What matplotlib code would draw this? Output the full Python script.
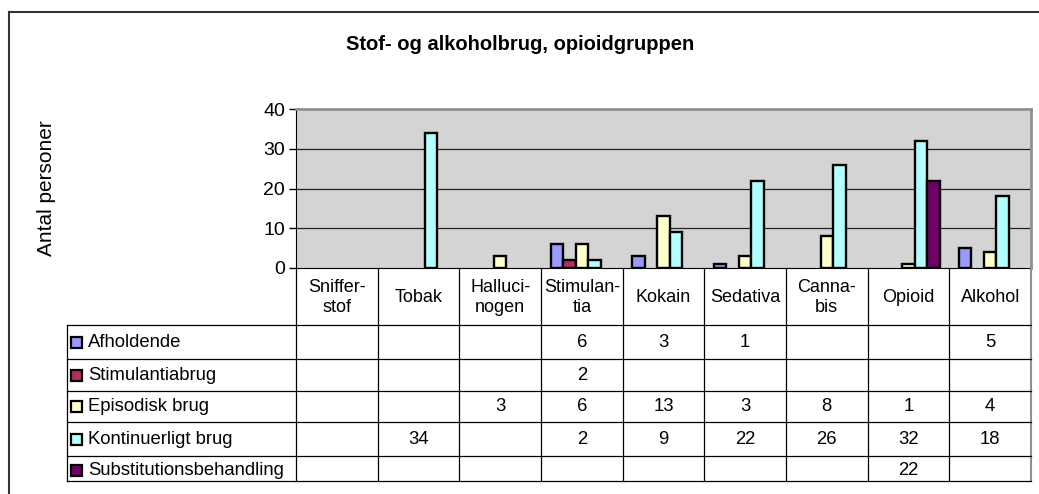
import numpy as np
import matplotlib
matplotlib.use("Agg")
import matplotlib.pyplot as plt
from matplotlib.patches import Rectangle

plt.rcParams['font.family'] = ['Liberation Sans', 'DejaVu Sans']

# --- data ---
kategorier = ['Sniffer-\nstof', 'Tobak', 'Halluci-\nnogen', 'Stimulan-\ntia', 'Kokain',
              'Sedativa', 'Canna-\nbis', 'Opioid', 'Alkohol']
serier = ['Afholdende', 'Stimulantiabrug', 'Episodisk brug', 'Kontinuerligt brug',
          'Substitutionsbehandling']
nan = np.nan
afholdende = [nan, nan, nan, 6, 3, 1, nan, nan, 5]
stimulantiabrug = [nan, nan, nan, 2, nan, nan, nan, nan, nan]
episodisk = [nan, nan, 3, 6, 13, 3, 8, 1, 4]
kontinuerligt = [nan, 34, nan, 2, 9, 22, 26, 32, 18]
substitution = [nan, nan, nan, nan, nan, nan, nan, 22, nan]
y_ticks = [0, 10, 20, 30, 40]

vaerdier = [afholdende, stimulantiabrug, episodisk, kontinuerligt, substitution]
farver = ['#9999ff', '#b03060', '#ffffcc', '#b3ffff', '#6e0066']

W, H = 1039, 494
fig = plt.figure(figsize=(W / 100, H / 100), dpi=100)

# pixel positions of plot area and table
px_l, px_r, px_t, px_b = 296, 1031, 109, 268
tab_l, tab_bot = 67, 481
row_y = [325, 359, 391, 422, 456, 481]

def fx(x):
    return x / W

def fy(y):
    return 1 - y / H

ax = fig.add_axes([fx(px_l), fy(px_b), fx(px_r - px_l), (px_b - px_t) / H])
ax.set_facecolor('#d4d4d4')
n = len(kategorier)
x = np.arange(n)
bw = 0.153
for i, (vals, c) in enumerate(zip(vaerdier, farver)):
    ax.bar(x + (i - 2) * bw, vals, width=bw, color=c, edgecolor='black',
           linewidth=1.7, zorder=3)
ax.set_xlim(-0.5, n - 0.5)
ax.set_ylim(0, 40)
ax.set_yticks(y_ticks)
ax.tick_params(axis='y', labelsize=14, length=5, width=1, direction='out', pad=3)
ax.set_xticks([])
for yv in y_ticks[1:-1]:
    ax.axhline(yv, color='#222222', lw=0.9, zorder=1)
ax.spines['left'].set_color('black')
ax.spines['bottom'].set_color('black')
ax.spines['top'].set_color('#909090')
ax.spines['right'].set_color('#909090')
ax.spines['top'].set_linewidth(2)
ax.spines['right'].set_linewidth(2)

# overlay axes in pixel coordinates for table, frame and texts
ov = fig.add_axes([0, 0, 1, 1])
ov.set_xlim(0, W)
ov.set_ylim(H, 0)
ov.axis('off')
ov.patch.set_alpha(0)

# outer chart frame
ov.plot([9, 9], [H + 5, 12], color='#333333', lw=1.5)
ov.plot([9, W + 5], [12, 12], color='#333333', lw=1.5)

ov.text(520, 44, 'Stof- og alkoholbrug, opioidgruppen', ha='center', va='center',
        fontsize=14.5, fontweight='bold')
ov.text(47, (px_t + px_b) / 2, 'Antal personer', rotation=90, ha='center',
        va='center', fontsize=15)

cw = (px_r - px_l) / n
col_x = [px_l + k * cw for k in range(n + 1)]

# vertical lines
for k, cx in enumerate(col_x):
    if k == n:
        ov.plot([cx, cx], [px_b, tab_bot], color='#909090', lw=1.5)
    else:
        ov.plot([cx, cx], [px_b, tab_bot], color='black', lw=0.9)
ov.plot([tab_l, tab_l], [row_y[0], tab_bot], color='black', lw=0.9)
# horizontal lines
for ry in row_y:
    ov.plot([tab_l, px_r], [ry, ry], color='black', lw=0.9)

# header labels
for k, lab in enumerate(kategorier):
    ov.text(col_x[k] + cw / 2, (px_b + row_y[0]) / 2 + 1, lab, ha='center',
            va='center', fontsize=13, linespacing=1.2)

# rows: legend keys, labels, values
for r, (navn, vals, c) in enumerate(zip(serier, vaerdier, farver)):
    cy = (row_y[r] + row_y[r + 1]) / 2
    if r == len(serier) - 1:
        cy = row_y[r] + 14
    ov.add_patch(Rectangle((71, cy - 5.5), 11, 11, facecolor=c, edgecolor='black',
                           lw=1.6))
    ov.text(88, cy, navn, ha='left', va='center', fontsize=13.3)
    for k, v in enumerate(vals):
        if not np.isnan(v):
            ov.text(col_x[k] + cw / 2, cy, f'{int(v)}', ha='center', va='center',
                    fontsize=13.3)

fig.savefig('out.png', dpi=100)
